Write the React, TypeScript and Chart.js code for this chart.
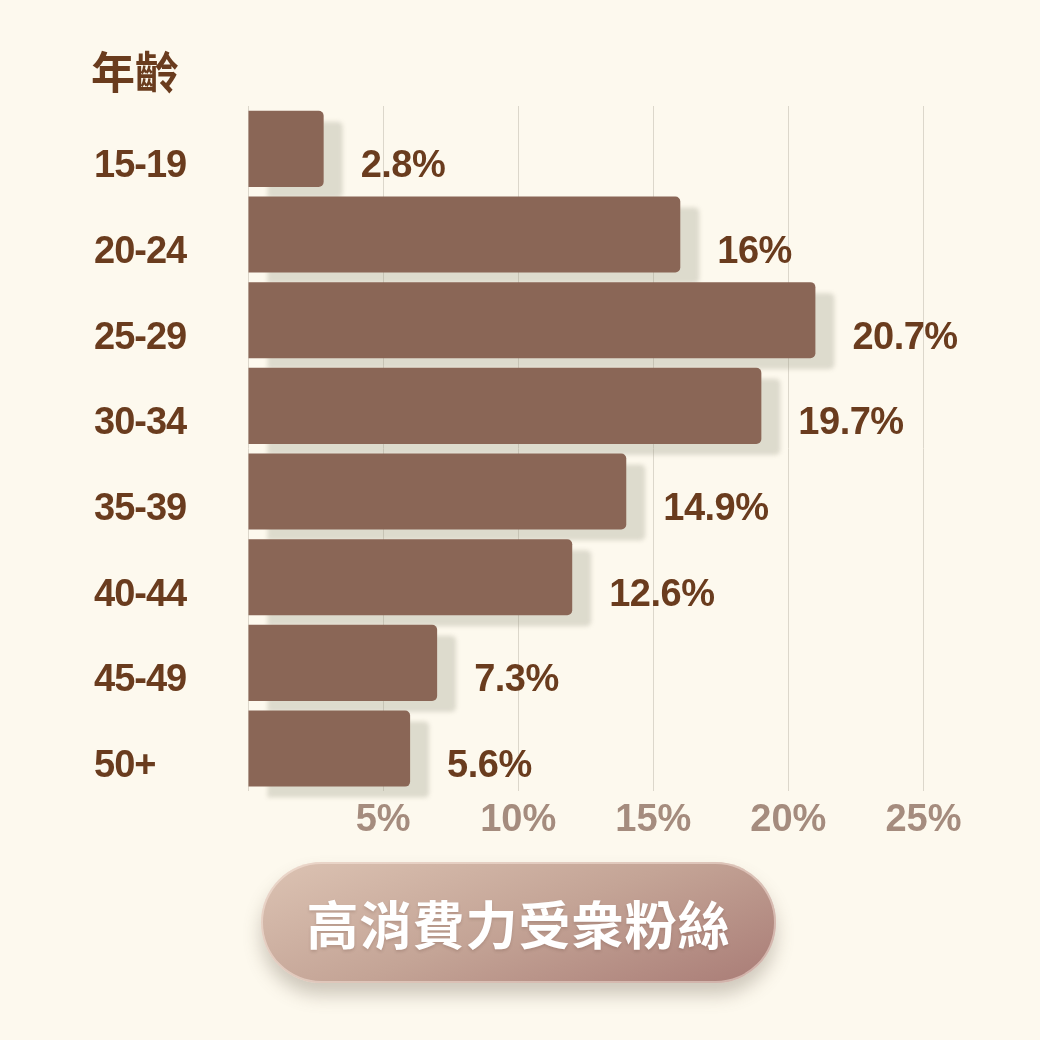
import { useEffect, useRef } from "react";
import { Chart, registerables } from "chart.js";

Chart.register(...registerables);

const ageGroups = ["15-19", "20-24", "25-29", "30-34", "35-39", "40-44", "45-49", "50+"];
// bar lengths as drawn in the picture (in %)
const shares = [2.8, 16, 21, 19, 14, 12, 7, 6];
// value labels as printed next to each bar
const shareLabels = ["2.8%", "16%", "20.7%", "19.7%", "14.9%", "12.6%", "7.3%", "5.6%"];
const tickValues = [0, 5, 10, 15, 20, 25];
const axisTitle = "年齡";
const badgeText = "高消費力受衆粉絲";

const BG = "#FDF9EE";
const BAR = "#8A6656";
const INK = "#6A3C1E";
const TICK = "#A58C7E";
const LATIN = '"Liberation Sans", "Noto Sans CJK TC", sans-serif';
const CJK = '"Noto Sans CJK TC", "Noto Sans", sans-serif';

// soft offset shadow behind the bars
const barShadow = {
  id: "barShadow",
  beforeDatasetsDraw(chart: Chart) {
    const ctx = chart.ctx;
    ctx.save();
    ctx.shadowColor = "rgba(150,148,128,0.3)";
    ctx.shadowOffsetX = 19;
    ctx.shadowOffsetY = 11;
    ctx.shadowBlur = 4;
  },
  afterDatasetsDraw(chart: Chart) {
    chart.ctx.restore();
  },
};

// category labels, value labels and the axis title
const textLayer = {
  id: "textLayer",
  afterDraw(chart: Chart) {
    const ctx = chart.ctx;
    const meta = chart.getDatasetMeta(0);
    ctx.save();
    ctx.fillStyle = INK;
    ctx.textBaseline = "middle";
    ctx.textAlign = "left";
    ctx.font = `bold 38px ${LATIN}`;
    meta.data.forEach((bar: any, i: number) => {
      const y = bar.y + 18;
      (ctx as any).letterSpacing = "-1px";
      ctx.fillText(ageGroups[i], 94, y);
      (ctx as any).letterSpacing = "-0.5px";
      ctx.fillText(shareLabels[i], bar.x + 37, y);
    });
    (ctx as any).letterSpacing = "0px";
    ctx.font = `bold 44px ${CJK}`;
    ctx.fillText(axisTitle, 91, 72);
    ctx.restore();
  },
};

function AgeChart() {
  const canvasRef = useRef<HTMLCanvasElement>(null);
  const chartRef = useRef<Chart | null>(null);

  useEffect(() => {
    if (!canvasRef.current) return;
    const ctx = canvasRef.current.getContext("2d");
    if (!ctx) return;
    if (chartRef.current) chartRef.current.destroy();

    chartRef.current = new Chart(ctx, {
      type: "bar",
      data: {
        labels: ageGroups,
        datasets: [
          {
            data: shares,
            backgroundColor: BAR,
            borderRadius: 5,
            borderSkipped: "start",
            categoryPercentage: 1,
            barPercentage: 0.888,
            clip: false as any,
          },
        ],
      },
      options: {
        indexAxis: "y",
        animation: false,
        responsive: false,
        devicePixelRatio: 1,
        layout: { padding: { left: 248, right: 76, top: 106, bottom: 191 } },
        plugins: {
          legend: { display: false },
          tooltip: { enabled: false },
        },
        scales: {
          y: { display: false },
          x: {
            min: 0,
            max: 26.5,
            afterBuildTicks: (scale: any) => {
              scale.ticks = tickValues.map((v) => ({ value: v }));
            },
            border: { display: false },
            grid: { color: "#DCD7CB", lineWidth: 1, drawTicks: false },
            ticks: {
              padding: 6,
              color: TICK,
              font: { family: LATIN, size: 38, weight: "bold" },
              callback: (v: any) => (v === 0 ? "" : `${v}%`),
            },
          },
        },
      },
      plugins: [barShadow, textLayer],
    });

    return () => {
      if (chartRef.current) {
        chartRef.current.destroy();
        chartRef.current = null;
      }
    };
  }, []);

  return <canvas ref={canvasRef} width={1040} height={1040} style={{ position: "absolute", left: 0, top: 0 }} />;
}

export default function App() {
  return (
    <div style={{ position: "fixed", left: 0, top: 0, width: 1040, height: 1040, background: BG, overflow: "hidden" }}>
      <AgeChart />
      {/* badge under the chart */}
      <div
        style={{
          position: "absolute",
          left: 261,
          top: 862,
          width: 515,
          height: 121,
          borderRadius: 61,
          background: "linear-gradient(160deg, #DCC3B3 0%, #C4A496 50%, #A97C76 100%)",
          boxShadow: "0 12px 18px rgba(110,95,80,0.32), inset 0 0 0 2px rgba(255,240,230,0.45)",
          display: "flex",
          alignItems: "center",
          justifyContent: "center",
          color: "#FFFFFF",
          fontFamily: CJK,
          fontWeight: 700,
          fontSize: 52,
          letterSpacing: 1,
          textShadow: "0 2px 3px rgba(90,60,50,0.2)",
        }}
      >
        {badgeText}
      </div>
    </div>
  );
}
